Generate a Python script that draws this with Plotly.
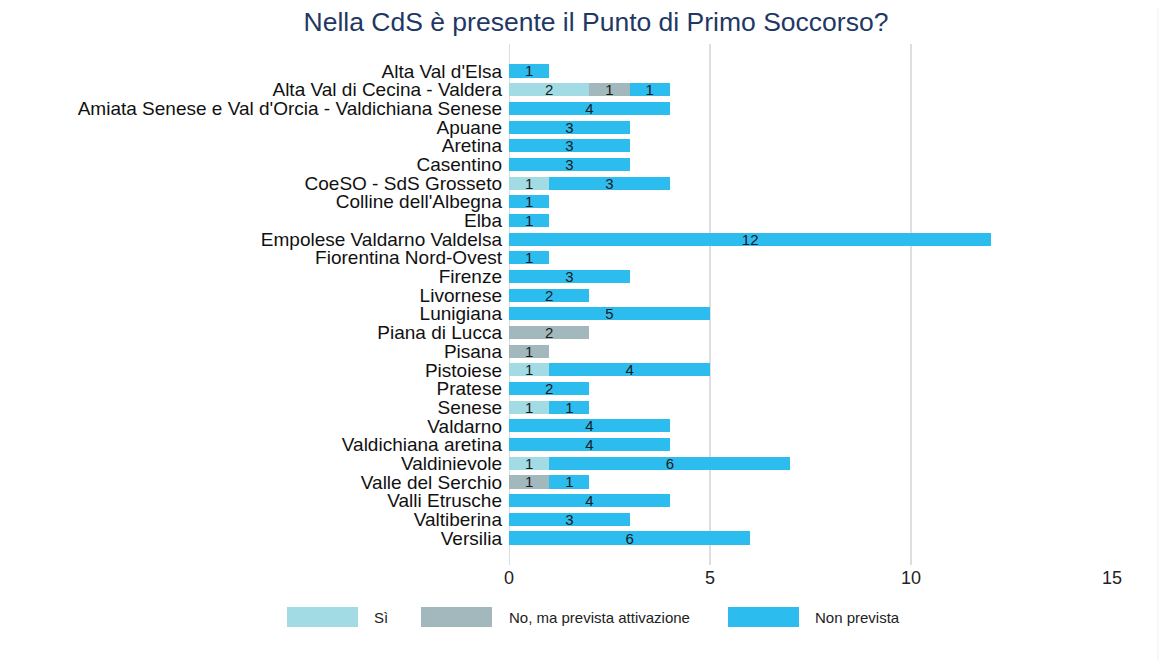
import plotly.graph_objects as go

categories = [
    "Alta Val d'Elsa", "Alta Val di Cecina - Valdera",
    "Amiata Senese e Val d'Orcia - Valdichiana Senese", "Apuane", "Aretina",
    "Casentino", "CoeSO - SdS Grosseto", "Colline dell'Albegna", "Elba",
    "Empolese Valdarno Valdelsa", "Fiorentina Nord-Ovest", "Firenze",
    "Livornese", "Lunigiana", "Piana di Lucca", "Pisana", "Pistoiese",
    "Pratese", "Senese", "Valdarno", "Valdichiana aretina", "Valdinievole",
    "Valle del Serchio", "Valli Etrusche", "Valtiberina", "Versilia",
]
si = [0, 2, 0, 0, 0, 0, 1, 0, 0, 0, 0, 0, 0, 0, 0, 0, 1, 0, 1, 0, 0, 1, 0, 0, 0, 0]
no_prevista_attivazione = [0, 1, 0, 0, 0, 0, 0, 0, 0, 0, 0, 0, 0, 0, 2, 1, 0, 0, 0, 0, 0, 0, 1, 0, 0, 0]
non_prevista = [1, 1, 4, 3, 3, 3, 3, 1, 1, 12, 1, 3, 2, 5, 0, 0, 4, 2, 1, 4, 4, 6, 1, 4, 3, 6]

series_names = ["Sì", "No, ma prevista attivazione", "Non prevista"]
series_values = [si, no_prevista_attivazione, non_prevista]
colors = ["#a2dbe4", "#a2b8bc", "#2dbcee"]
x_ticks = [0, 5, 10, 15]
grid_at = [0, 5, 10]

W, H = 1171, 661
OFF = 8  # page offset observed in the rendering
L, R, T, B = 509 - OFF, 1112 - OFF, 44 - OFF, 565 - OFF

fig = go.Figure()
for name, vals, col in zip(series_names, series_values, colors):
    fig.add_trace(go.Bar(
        y=categories, x=vals, name=name, orientation="h",
        marker=dict(color=col, line=dict(width=0)),
        text=[str(v) if v else "" for v in vals],
        textposition="inside", insidetextanchor="middle", textangle=0,
        textfont=dict(family="Liberation Sans, Arial", size=15, color="#1a1a1a"),
        constraintext="none", showlegend=False,
    ))

def px_x(p):
    return (p - OFF - L) / (R - L)

def px_y(p):
    return (B - (p - OFF)) / (B - T)

shapes = []
for g in grid_at:
    shapes.append(dict(type="line", xref="x", yref="paper", x0=g, x1=g, y0=0, y1=1,
                       line=dict(color="#dedede", width=2), layer="below"))

# custom legend
legend_rects = [(287, 358), (421, 492), (728, 799)]
legend_text_x = [372, 507, 813]
annotations = []
for (x0, x1), tx, name, col in zip(legend_rects, legend_text_x, series_names, colors):
    shapes.append(dict(type="rect", xref="paper", yref="paper",
                       x0=px_x(x0), x1=px_x(x1), y0=px_y(627), y1=px_y(607),
                       fillcolor=col, line=dict(width=0)))
    annotations.append(dict(xref="paper", yref="paper", x=px_x(tx), y=px_y(617),
                            xanchor="left", yanchor="middle", text=name, showarrow=False,
                            font=dict(family="Liberation Sans, Arial", size=15, color="#222222")))

# faint frame line at right
shapes.append(dict(type="line", xref="paper", yref="paper", x0=px_x(1158), x1=px_x(1158),
                   y0=px_y(0), y1=px_y(661), line=dict(color="#eef2f3", width=1)))

n = len(categories)
pad = 1.445
fig.update_layout(
    width=W, height=H, barmode="stack", bargap=0.3,
    margin=dict(l=L, r=W - R, t=T, b=H - B, autoexpand=False),
    paper_bgcolor="white", plot_bgcolor="white",
    title=dict(text="Nella CdS è presente il Punto di Primo Soccorso?",
               x=(596 - OFF) / W, xanchor="center", y=1 - (22 - OFF) / H, yanchor="middle",
               yref="container",
               font=dict(family="Liberation Sans, Arial", size=26.5, color="#1f3864")),
    xaxis=dict(range=[0, 15], tickvals=x_ticks, showgrid=False, zeroline=False,
               showline=False, ticks="", ticklabelstandoff=0,
               tickfont=dict(family="Liberation Sans, Arial", size=18, color="#222222")),
    yaxis=dict(categoryorder="array", categoryarray=categories,
               tickmode="array", tickvals=categories, ticktext=categories,
               range=[n - 1 + pad, -pad], autorange=False, ticklabelstandoff=6,
               showgrid=False, zeroline=False, showline=False, ticks="",
               tickfont=dict(family="Liberation Sans, Arial", size=19, color="#111111")),
    shapes=shapes, annotations=annotations,
    uniformtext=dict(mode=False),
)

fig.write_html("out.html")
